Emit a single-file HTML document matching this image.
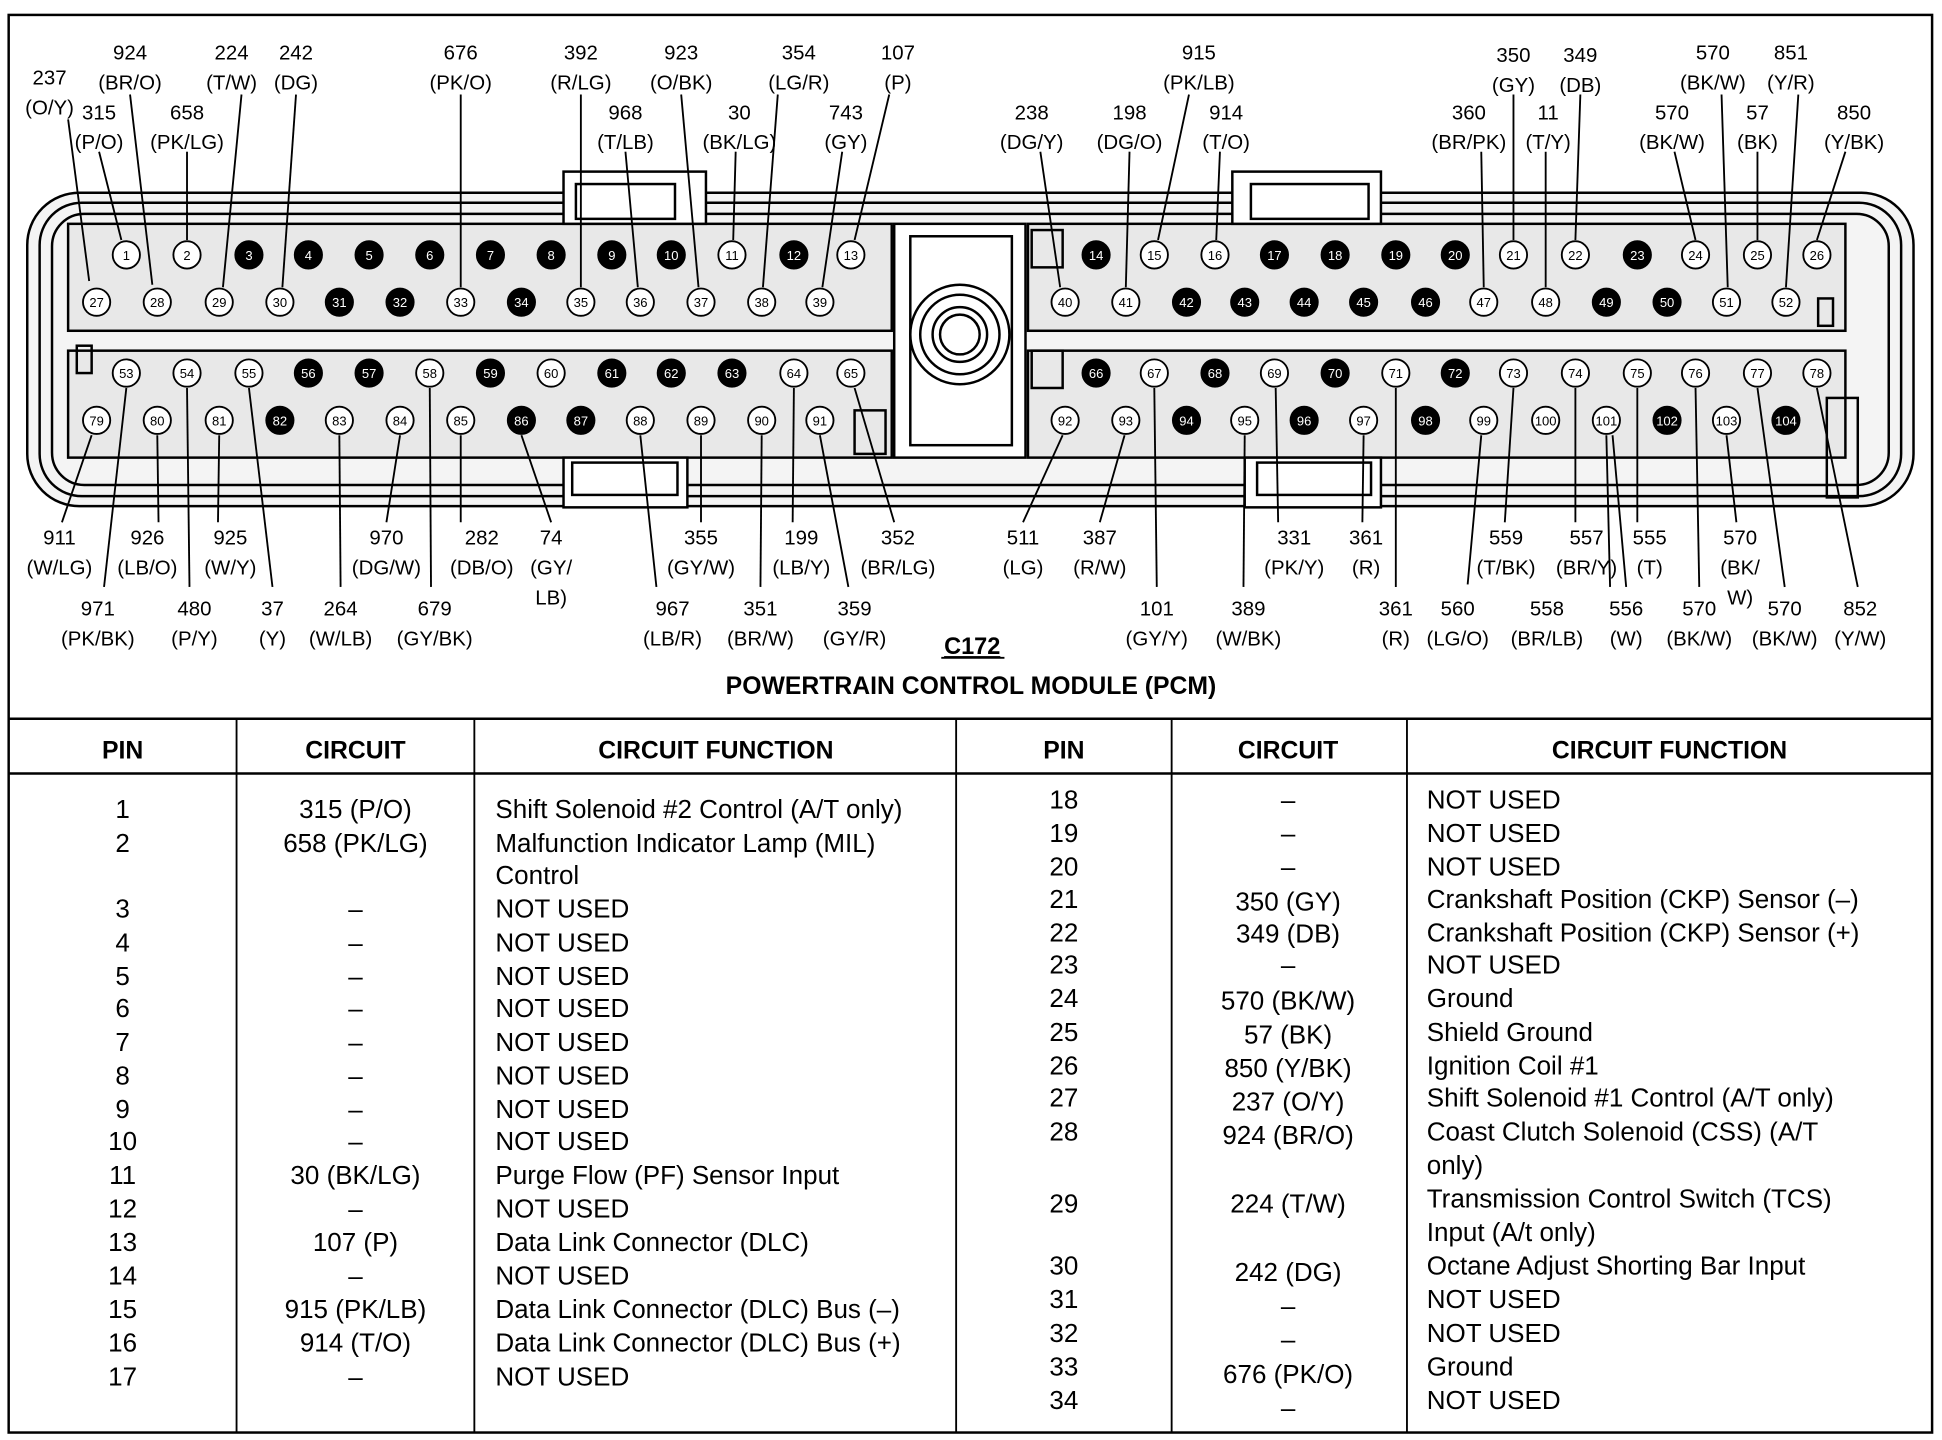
<!DOCTYPE html>
<html><head><meta charset="utf-8"><style>
html,body{margin:0;padding:0;background:#fff}
svg{display:block}
text{font-family:"Liberation Sans",Arial,sans-serif;fill:#000}
.l{font-size:16.5px;text-anchor:middle}
.p{font-size:10.5px;text-anchor:middle}
.w{fill:#fff}
.t{font-size:21px}
.c{text-anchor:middle}
.h{font-size:20px;font-weight:bold;text-anchor:middle}
</style></head><body>
<svg width="1942" height="1440" viewBox="0 0 1568 1158" preserveAspectRatio="none" xmlns="http://www.w3.org/2000/svg">
<rect x="7" y="12" width="1553" height="1140" fill="none" stroke="#000" stroke-width="2"/>
<line x1="7" y1="578" x2="1560" y2="578" stroke="#000" stroke-width="2"/>
<line x1="7" y1="622" x2="1560" y2="622" stroke="#000" stroke-width="2"/>
<g stroke="#000" stroke-width="1.5">
<line x1="191" y1="578" x2="191" y2="1152"/><line x1="383" y1="578" x2="383" y2="1152"/>
<line x1="772" y1="578" x2="772" y2="1152"/><line x1="946" y1="578" x2="946" y2="1152"/>
<line x1="1136" y1="578" x2="1136" y2="1152"/></g>

<!-- connector body -->
<g fill="none" stroke="#000" stroke-width="2">
<rect x="22" y="155" width="1523" height="252" rx="42" fill="#f4f4f4"/>
<rect x="32" y="163" width="1503" height="236" rx="34"/>
<rect x="42" y="172" width="1483" height="218" rx="26"/>
<rect x="55" y="180" width="665" height="86" fill="#e8e8e8"/>
<rect x="55" y="282" width="665" height="86" fill="#e8e8e8"/>
<rect x="830" y="180" width="660" height="86" fill="#e8e8e8"/>
<rect x="830" y="282" width="660" height="86" fill="#e8e8e8"/>
<rect x="455" y="138" width="115" height="42" fill="#fff"/>
<rect x="465" y="148" width="80" height="28"/>
<rect x="995" y="138" width="120" height="42" fill="#fff"/>
<rect x="1010" y="148" width="95" height="28"/>
<rect x="455" y="368" width="100" height="40" fill="#fff"/>
<rect x="462" y="372" width="85" height="26"/>
<rect x="1005" y="368" width="110" height="40" fill="#fff"/>
<rect x="1015" y="372" width="92" height="26"/>
<rect x="722" y="180" width="106" height="188" fill="#fff"/>
<rect x="735" y="190" width="82" height="168"/>
<circle cx="775" cy="269" r="40" fill="#fff"/><circle cx="775" cy="269" r="32"/><circle cx="775" cy="269" r="22"/><circle cx="775" cy="269" r="16"/>
<rect x="833" y="185" width="25" height="30"/><rect x="833" y="282" width="25" height="30"/>
<rect x="62" y="278" width="12" height="22"/><rect x="1468" y="240" width="12" height="22"/>
<rect x="690" y="330" width="25" height="35"/><rect x="1475" y="320" width="25" height="80"/>
</g>

<!-- leader lines -->
<g stroke="#000" stroke-width="1.5">
<line x1="55" y1="96" x2="72" y2="226"/><line x1="105" y1="76" x2="123" y2="229"/>
<line x1="80" y1="122" x2="98" y2="193"/><line x1="151" y1="122" x2="151" y2="193"/>
<line x1="195" y1="76" x2="180" y2="231"/><line x1="239" y1="76" x2="228" y2="231"/>
<line x1="372" y1="76" x2="372" y2="231"/><line x1="469" y1="76" x2="469" y2="231"/>
<line x1="505" y1="122" x2="515" y2="231"/><line x1="550" y1="76" x2="564" y2="231"/>
<line x1="594" y1="122" x2="592" y2="193"/><line x1="628" y1="76" x2="616" y2="231"/>
<line x1="680" y1="122" x2="664" y2="231"/><line x1="718" y1="76" x2="690" y2="193"/>
<line x1="840" y1="122" x2="856" y2="231"/><line x1="912" y1="122" x2="909" y2="231"/>
<line x1="960" y1="76" x2="935" y2="193"/><line x1="985" y1="122" x2="982" y2="193"/>
<line x1="1222" y1="76" x2="1222" y2="193"/><line x1="1276" y1="76" x2="1272" y2="193"/>
<line x1="1196" y1="122" x2="1198" y2="231"/><line x1="1248" y1="122" x2="1248" y2="231"/>
<line x1="1390" y1="76" x2="1395" y2="231"/><line x1="1452" y1="76" x2="1442" y2="231"/>
<line x1="1352" y1="122" x2="1369" y2="193"/><line x1="1419" y1="122" x2="1419" y2="193"/>
<line x1="1490" y1="122" x2="1467" y2="193"/>
<!-- bottom -->
<line x1="50" y1="420" x2="74" y2="350"/><line x1="128" y1="420" x2="127" y2="350"/>
<line x1="176" y1="420" x2="177" y2="350"/><line x1="312" y1="420" x2="323" y2="350"/>
<line x1="372" y1="420" x2="372" y2="350"/><line x1="445" y1="420" x2="421" y2="350"/>
<line x1="566" y1="420" x2="566" y2="350"/><line x1="640" y1="420" x2="641" y2="312"/>
<line x1="722" y1="420" x2="690" y2="312"/><line x1="826" y1="420" x2="858" y2="350"/>
<line x1="888" y1="420" x2="908" y2="350"/><line x1="1032" y1="420" x2="1030" y2="312"/>
<line x1="1100" y1="420" x2="1101" y2="350"/><line x1="1185" y1="470" x2="1196" y2="350"/>
<line x1="1272" y1="420" x2="1272" y2="312"/><line x1="1322" y1="420" x2="1322" y2="312"/>
<line x1="1402" y1="420" x2="1394" y2="350"/>
<line x1="84" y1="472" x2="102" y2="312"/><line x1="153" y1="472" x2="151" y2="312"/>
<line x1="220" y1="472" x2="201" y2="312"/><line x1="275" y1="472" x2="274" y2="350"/>
<line x1="348" y1="472" x2="347" y2="312"/><line x1="530" y1="472" x2="517" y2="350"/>
<line x1="614" y1="472" x2="615" y2="350"/><line x1="685" y1="472" x2="662" y2="350"/>
<line x1="934" y1="472" x2="932" y2="312"/><line x1="1004" y1="472" x2="1005" y2="350"/>
<line x1="1127" y1="472" x2="1127" y2="312"/><line x1="1215" y1="420" x2="1222" y2="312"/>
<line x1="1300" y1="472" x2="1297" y2="350"/><line x1="1313" y1="472" x2="1302" y2="350"/>
<line x1="1372" y1="472" x2="1369" y2="312"/><line x1="1441" y1="472" x2="1419" y2="312"/>
<line x1="1500" y1="472" x2="1467" y2="312"/>
</g>

<!-- pins -->
<g stroke="#000" stroke-width="1.5" fill="#fff">
<circle cx="102" cy="205" r="11"/><circle cx="151" cy="205" r="11"/><circle cx="201" cy="205" r="11" fill="#000"/><circle cx="249" cy="205" r="11" fill="#000"/><circle cx="298" cy="205" r="11" fill="#000"/><circle cx="347" cy="205" r="11" fill="#000"/><circle cx="396" cy="205" r="11" fill="#000"/><circle cx="445" cy="205" r="11" fill="#000"/><circle cx="494" cy="205" r="11" fill="#000"/><circle cx="542" cy="205" r="11" fill="#000"/><circle cx="591" cy="205" r="11"/><circle cx="641" cy="205" r="11" fill="#000"/><circle cx="687" cy="205" r="11"/>
<circle cx="885" cy="205" r="11" fill="#000"/><circle cx="932" cy="205" r="11"/><circle cx="981" cy="205" r="11"/><circle cx="1029" cy="205" r="11" fill="#000"/><circle cx="1078" cy="205" r="11" fill="#000"/><circle cx="1127" cy="205" r="11" fill="#000"/><circle cx="1175" cy="205" r="11" fill="#000"/><circle cx="1222" cy="205" r="11"/><circle cx="1272" cy="205" r="11"/><circle cx="1322" cy="205" r="11" fill="#000"/><circle cx="1369" cy="205" r="11"/><circle cx="1419" cy="205" r="11"/><circle cx="1467" cy="205" r="11"/>
<circle cx="78" cy="243" r="11"/><circle cx="127" cy="243" r="11"/><circle cx="177" cy="243" r="11"/><circle cx="226" cy="243" r="11"/><circle cx="274" cy="243" r="11" fill="#000"/><circle cx="323" cy="243" r="11" fill="#000"/><circle cx="372" cy="243" r="11"/><circle cx="421" cy="243" r="11" fill="#000"/><circle cx="469" cy="243" r="11"/><circle cx="517" cy="243" r="11"/><circle cx="566" cy="243" r="11"/><circle cx="615" cy="243" r="11"/><circle cx="662" cy="243" r="11"/>
<circle cx="860" cy="243" r="11"/><circle cx="909" cy="243" r="11"/><circle cx="958" cy="243" r="11" fill="#000"/><circle cx="1005" cy="243" r="11" fill="#000"/><circle cx="1053" cy="243" r="11" fill="#000"/><circle cx="1101" cy="243" r="11" fill="#000"/><circle cx="1151" cy="243" r="11" fill="#000"/><circle cx="1198" cy="243" r="11"/><circle cx="1248" cy="243" r="11"/><circle cx="1297" cy="243" r="11" fill="#000"/><circle cx="1346" cy="243" r="11" fill="#000"/><circle cx="1394" cy="243" r="11"/><circle cx="1442" cy="243" r="11"/>
<circle cx="102" cy="300" r="11"/><circle cx="151" cy="300" r="11"/><circle cx="201" cy="300" r="11"/><circle cx="249" cy="300" r="11" fill="#000"/><circle cx="298" cy="300" r="11" fill="#000"/><circle cx="347" cy="300" r="11"/><circle cx="396" cy="300" r="11" fill="#000"/><circle cx="445" cy="300" r="11"/><circle cx="494" cy="300" r="11" fill="#000"/><circle cx="542" cy="300" r="11" fill="#000"/><circle cx="591" cy="300" r="11" fill="#000"/><circle cx="641" cy="300" r="11"/><circle cx="687" cy="300" r="11"/>
<circle cx="885" cy="300" r="11" fill="#000"/><circle cx="932" cy="300" r="11"/><circle cx="981" cy="300" r="11" fill="#000"/><circle cx="1029" cy="300" r="11"/><circle cx="1078" cy="300" r="11" fill="#000"/><circle cx="1127" cy="300" r="11"/><circle cx="1175" cy="300" r="11" fill="#000"/><circle cx="1222" cy="300" r="11"/><circle cx="1272" cy="300" r="11"/><circle cx="1322" cy="300" r="11"/><circle cx="1369" cy="300" r="11"/><circle cx="1419" cy="300" r="11"/><circle cx="1467" cy="300" r="11"/>
<circle cx="78" cy="338" r="11"/><circle cx="127" cy="338" r="11"/><circle cx="177" cy="338" r="11"/><circle cx="226" cy="338" r="11" fill="#000"/><circle cx="274" cy="338" r="11"/><circle cx="323" cy="338" r="11"/><circle cx="372" cy="338" r="11"/><circle cx="421" cy="338" r="11" fill="#000"/><circle cx="469" cy="338" r="11" fill="#000"/><circle cx="517" cy="338" r="11"/><circle cx="566" cy="338" r="11"/><circle cx="615" cy="338" r="11"/><circle cx="662" cy="338" r="11"/>
<circle cx="860" cy="338" r="11"/><circle cx="909" cy="338" r="11"/><circle cx="958" cy="338" r="11" fill="#000"/><circle cx="1005" cy="338" r="11"/><circle cx="1053" cy="338" r="11" fill="#000"/><circle cx="1101" cy="338" r="11"/><circle cx="1151" cy="338" r="11" fill="#000"/><circle cx="1198" cy="338" r="11"/><circle cx="1248" cy="338" r="11"/><circle cx="1297" cy="338" r="11"/><circle cx="1346" cy="338" r="11" fill="#000"/><circle cx="1394" cy="338" r="11"/><circle cx="1442" cy="338" r="11" fill="#000"/>
</g>
<g class="p">
<text x="102" y="209">1</text><text x="151" y="209">2</text><text class="p w" x="201" y="209">3</text><text class="p w" x="249" y="209">4</text><text class="p w" x="298" y="209">5</text><text class="p w" x="347" y="209">6</text><text class="p w" x="396" y="209">7</text><text class="p w" x="445" y="209">8</text><text class="p w" x="494" y="209">9</text><text class="p w" x="542" y="209">10</text><text x="591" y="209">11</text><text class="p w" x="641" y="209">12</text><text x="687" y="209">13</text>
<text class="p w" x="885" y="209">14</text><text x="932" y="209">15</text><text x="981" y="209">16</text><text class="p w" x="1029" y="209">17</text><text class="p w" x="1078" y="209">18</text><text class="p w" x="1127" y="209">19</text><text class="p w" x="1175" y="209">20</text><text x="1222" y="209">21</text><text x="1272" y="209">22</text><text class="p w" x="1322" y="209">23</text><text x="1369" y="209">24</text><text x="1419" y="209">25</text><text x="1467" y="209">26</text>
<text x="78" y="247">27</text><text x="127" y="247">28</text><text x="177" y="247">29</text><text x="226" y="247">30</text><text class="p w" x="274" y="247">31</text><text class="p w" x="323" y="247">32</text><text x="372" y="247">33</text><text class="p w" x="421" y="247">34</text><text x="469" y="247">35</text><text x="517" y="247">36</text><text x="566" y="247">37</text><text x="615" y="247">38</text><text x="662" y="247">39</text>
<text x="860" y="247">40</text><text x="909" y="247">41</text><text class="p w" x="958" y="247">42</text><text class="p w" x="1005" y="247">43</text><text class="p w" x="1053" y="247">44</text><text class="p w" x="1101" y="247">45</text><text class="p w" x="1151" y="247">46</text><text x="1198" y="247">47</text><text x="1248" y="247">48</text><text class="p w" x="1297" y="247">49</text><text class="p w" x="1346" y="247">50</text><text x="1394" y="247">51</text><text x="1442" y="247">52</text>
<text x="102" y="304">53</text><text x="151" y="304">54</text><text x="201" y="304">55</text><text class="p w" x="249" y="304">56</text><text class="p w" x="298" y="304">57</text><text x="347" y="304">58</text><text class="p w" x="396" y="304">59</text><text x="445" y="304">60</text><text class="p w" x="494" y="304">61</text><text class="p w" x="542" y="304">62</text><text class="p w" x="591" y="304">63</text><text x="641" y="304">64</text><text x="687" y="304">65</text>
<text class="p w" x="885" y="304">66</text><text x="932" y="304">67</text><text class="p w" x="981" y="304">68</text><text x="1029" y="304">69</text><text class="p w" x="1078" y="304">70</text><text x="1127" y="304">71</text><text class="p w" x="1175" y="304">72</text><text x="1222" y="304">73</text><text x="1272" y="304">74</text><text x="1322" y="304">75</text><text x="1369" y="304">76</text><text x="1419" y="304">77</text><text x="1467" y="304">78</text>
<text x="78" y="342">79</text><text x="127" y="342">80</text><text x="177" y="342">81</text><text class="p w" x="226" y="342">82</text><text x="274" y="342">83</text><text x="323" y="342">84</text><text x="372" y="342">85</text><text class="p w" x="421" y="342">86</text><text class="p w" x="469" y="342">87</text><text x="517" y="342">88</text><text x="566" y="342">89</text><text x="615" y="342">90</text><text x="662" y="342">91</text>
<text x="860" y="342">92</text><text x="909" y="342">93</text><text class="p w" x="958" y="342">94</text><text x="1005" y="342">95</text><text class="p w" x="1053" y="342">96</text><text x="1101" y="342">97</text><text class="p w" x="1151" y="342">98</text><text x="1198" y="342">99</text><text x="1248" y="342">100</text><text x="1297" y="342">101</text><text class="p w" x="1346" y="342">102</text><text x="1394" y="342">103</text><text class="p w" x="1442" y="342">104</text>
</g>

<!-- labels top -->
<g class="l">
<text x="40" y="68">237</text><text x="40" y="92">(O/Y)</text>
<text x="105" y="48">924</text><text x="105" y="72">(BR/O)</text>
<text x="80" y="96">315</text><text x="80" y="120">(P/O)</text>
<text x="151" y="96">658</text><text x="151" y="120">(PK/LG)</text>
<text x="187" y="48">224</text><text x="187" y="72">(T/W)</text>
<text x="239" y="48">242</text><text x="239" y="72">(DG)</text>
<text x="372" y="48">676</text><text x="372" y="72">(PK/O)</text>
<text x="469" y="48">392</text><text x="469" y="72">(R/LG)</text>
<text x="505" y="96">968</text><text x="505" y="120">(T/LB)</text>
<text x="550" y="48">923</text><text x="550" y="72">(O/BK)</text>
<text x="597" y="96">30</text><text x="597" y="120">(BK/LG)</text>
<text x="645" y="48">354</text><text x="645" y="72">(LG/R)</text>
<text x="683" y="96">743</text><text x="683" y="120">(GY)</text>
<text x="725" y="48">107</text><text x="725" y="72">(P)</text>
<text x="833" y="96">238</text><text x="833" y="120">(DG/Y)</text>
<text x="912" y="96">198</text><text x="912" y="120">(DG/O)</text>
<text x="968" y="48">915</text><text x="968" y="72">(PK/LB)</text>
<text x="990" y="96">914</text><text x="990" y="120">(T/O)</text>
<text x="1222" y="50">350</text><text x="1222" y="74">(GY)</text>
<text x="1276" y="50">349</text><text x="1276" y="74">(DB)</text>
<text x="1186" y="96">360</text><text x="1186" y="120">(BR/PK)</text>
<text x="1250" y="96">11</text><text x="1250" y="120">(T/Y)</text>
<text x="1383" y="48">570</text><text x="1383" y="72">(BK/W)</text>
<text x="1446" y="48">851</text><text x="1446" y="72">(Y/R)</text>
<text x="1350" y="96">570</text><text x="1350" y="120">(BK/W)</text>
<text x="1419" y="96">57</text><text x="1419" y="120">(BK)</text>
<text x="1497" y="96">850</text><text x="1497" y="120">(Y/BK)</text>
<!-- bottom row 1 -->
<text x="48" y="438">911</text><text x="48" y="462">(W/LG)</text>
<text x="119" y="438">926</text><text x="119" y="462">(LB/O)</text>
<text x="186" y="438">925</text><text x="186" y="462">(W/Y)</text>
<text x="312" y="438">970</text><text x="312" y="462">(DG/W)</text>
<text x="389" y="438">282</text><text x="389" y="462">(DB/O)</text>
<text x="445" y="438">74</text><text x="445" y="462">(GY/</text><text x="445" y="486">LB)</text>
<text x="566" y="438">355</text><text x="566" y="462">(GY/W)</text>
<text x="647" y="438">199</text><text x="647" y="462">(LB/Y)</text>
<text x="725" y="438">352</text><text x="725" y="462">(BR/LG)</text>
<text x="826" y="438">511</text><text x="826" y="462">(LG)</text>
<text x="888" y="438">387</text><text x="888" y="462">(R/W)</text>
<text x="1045" y="438">331</text><text x="1045" y="462">(PK/Y)</text>
<text x="1103" y="438">361</text><text x="1103" y="462">(R)</text>
<text x="1216" y="438">559</text><text x="1216" y="462">(T/BK)</text>
<text x="1281" y="438">557</text><text x="1281" y="462">(BR/Y)</text>
<text x="1332" y="438">555</text><text x="1332" y="462">(T)</text>
<text x="1405" y="438">570</text><text x="1405" y="462">(BK/</text><text x="1405" y="486">W)</text>
<!-- bottom row 2 -->
<text x="79" y="495">971</text><text x="79" y="519">(PK/BK)</text>
<text x="157" y="495">480</text><text x="157" y="519">(P/Y)</text>
<text x="220" y="495">37</text><text x="220" y="519">(Y)</text>
<text x="275" y="495">264</text><text x="275" y="519">(W/LB)</text>
<text x="351" y="495">679</text><text x="351" y="519">(GY/BK)</text>
<text x="543" y="495">967</text><text x="543" y="519">(LB/R)</text>
<text x="614" y="495">351</text><text x="614" y="519">(BR/W)</text>
<text x="690" y="495">359</text><text x="690" y="519">(GY/R)</text>
<text x="934" y="495">101</text><text x="934" y="519">(GY/Y)</text>
<text x="1008" y="495">389</text><text x="1008" y="519">(W/BK)</text>
<text x="1127" y="495">361</text><text x="1127" y="519">(R)</text>
<text x="1177" y="495">560</text><text x="1177" y="519">(LG/O)</text>
<text x="1249" y="495">558</text><text x="1249" y="519">(BR/LB)</text>
<text x="1313" y="495">556</text><text x="1313" y="519">(W)</text>
<text x="1372" y="495">570</text><text x="1372" y="519">(BK/W)</text>
<text x="1441" y="495">570</text><text x="1441" y="519">(BK/W)</text>
<text x="1502" y="495">852</text><text x="1502" y="519">(Y/W)</text>
</g>
<text x="785" y="526" style="font-size:19px;font-weight:bold;text-anchor:middle;text-decoration:underline">C172</text>
<line x1="760" y1="529" x2="811" y2="529" stroke="#000" stroke-width="1.5"/>
<text x="784" y="558" style="font-size:20px;font-weight:bold;text-anchor:middle">POWERTRAIN CONTROL MODULE (PCM)</text>

<!-- table headers -->
<g class="h">
<text x="99" y="610">PIN</text><text x="287" y="610">CIRCUIT</text><text x="578" y="610">CIRCUIT FUNCTION</text>
<text x="859" y="610">PIN</text><text x="1040" y="610">CIRCUIT</text><text x="1348" y="610">CIRCUIT FUNCTION</text>
</g>
<g class="t">
<g class="c">
<text x="99" y="658">1</text><text x="99" y="685">2</text><text x="99" y="738">3</text><text x="99" y="765">4</text><text x="99" y="792">5</text><text x="99" y="818">6</text><text x="99" y="845">7</text><text x="99" y="872">8</text><text x="99" y="899">9</text><text x="99" y="925">10</text><text x="99" y="952">11</text><text x="99" y="979">12</text><text x="99" y="1006">13</text><text x="99" y="1033">14</text><text x="99" y="1060">15</text><text x="99" y="1087">16</text><text x="99" y="1114">17</text>
<text x="287" y="658">315 (P/O)</text><text x="287" y="685">658 (PK/LG)</text><text x="287" y="738">–</text><text x="287" y="765">–</text><text x="287" y="792">–</text><text x="287" y="818">–</text><text x="287" y="845">–</text><text x="287" y="872">–</text><text x="287" y="899">–</text><text x="287" y="925">–</text><text x="287" y="952">30 (BK/LG)</text><text x="287" y="979">–</text><text x="287" y="1006">107 (P)</text><text x="287" y="1033">–</text><text x="287" y="1060">915 (PK/LB)</text><text x="287" y="1087">914 (T/O)</text><text x="287" y="1114">–</text>
<text x="859" y="650">18</text><text x="859" y="677">19</text><text x="859" y="704">20</text><text x="859" y="730">21</text><text x="859" y="757">22</text><text x="859" y="783">23</text><text x="859" y="810">24</text><text x="859" y="837">25</text><text x="859" y="864">26</text><text x="859" y="890">27</text><text x="859" y="917">28</text><text x="859" y="975">29</text><text x="859" y="1025">30</text><text x="859" y="1052">31</text><text x="859" y="1079">32</text><text x="859" y="1106">33</text><text x="859" y="1133">34</text>
<text x="1040" y="650">–</text><text x="1040" y="677">–</text><text x="1040" y="704">–</text><text x="1040" y="732">350 (GY)</text><text x="1040" y="758">349 (DB)</text><text x="1040" y="783">–</text><text x="1040" y="812">570 (BK/W)</text><text x="1040" y="839">57 (BK)</text><text x="1040" y="866">850 (Y/BK)</text><text x="1040" y="893">237 (O/Y)</text><text x="1040" y="920">924 (BR/O)</text><text x="1040" y="975">224 (T/W)</text><text x="1040" y="1030">242 (DG)</text><text x="1040" y="1057">–</text><text x="1040" y="1084">–</text><text x="1040" y="1112">676 (PK/O)</text><text x="1040" y="1139">–</text>
</g>
<text x="400" y="658">Shift Solenoid #2 Control (A/T only)</text><text x="400" y="685">Malfunction Indicator Lamp (MIL)</text><text x="400" y="711">Control</text>
<text x="400" y="738">NOT USED</text><text x="400" y="765">NOT USED</text><text x="400" y="792">NOT USED</text><text x="400" y="818">NOT USED</text><text x="400" y="845">NOT USED</text><text x="400" y="872">NOT USED</text><text x="400" y="899">NOT USED</text><text x="400" y="925">NOT USED</text>
<text x="400" y="952">Purge Flow (PF) Sensor Input</text><text x="400" y="979">NOT USED</text><text x="400" y="1006">Data Link Connector (DLC)</text><text x="400" y="1033">NOT USED</text><text x="400" y="1060">Data Link Connector (DLC) Bus (–)</text><text x="400" y="1087">Data Link Connector (DLC) Bus (+)</text><text x="400" y="1114">NOT USED</text>
<text x="1152" y="650">NOT USED</text><text x="1152" y="677">NOT USED</text><text x="1152" y="704">NOT USED</text>
<text x="1152" y="730">Crankshaft Position (CKP) Sensor (–)</text><text x="1152" y="757">Crankshaft Position (CKP) Sensor (+)</text><text x="1152" y="783">NOT USED</text>
<text x="1152" y="810">Ground</text><text x="1152" y="837">Shield Ground</text><text x="1152" y="864">Ignition Coil #1</text><text x="1152" y="890">Shift Solenoid #1 Control (A/T only)</text>
<text x="1152" y="917">Coast Clutch Solenoid (CSS) (A/T</text><text x="1152" y="944">only)</text>
<text x="1152" y="971">Transmission Control Switch (TCS)</text><text x="1152" y="998">Input (A/t only)</text>
<text x="1152" y="1025">Octane Adjust Shorting Bar Input</text><text x="1152" y="1052">NOT USED</text><text x="1152" y="1079">NOT USED</text><text x="1152" y="1106">Ground</text><text x="1152" y="1133">NOT USED</text>
</g>
</svg>
</body></html>
